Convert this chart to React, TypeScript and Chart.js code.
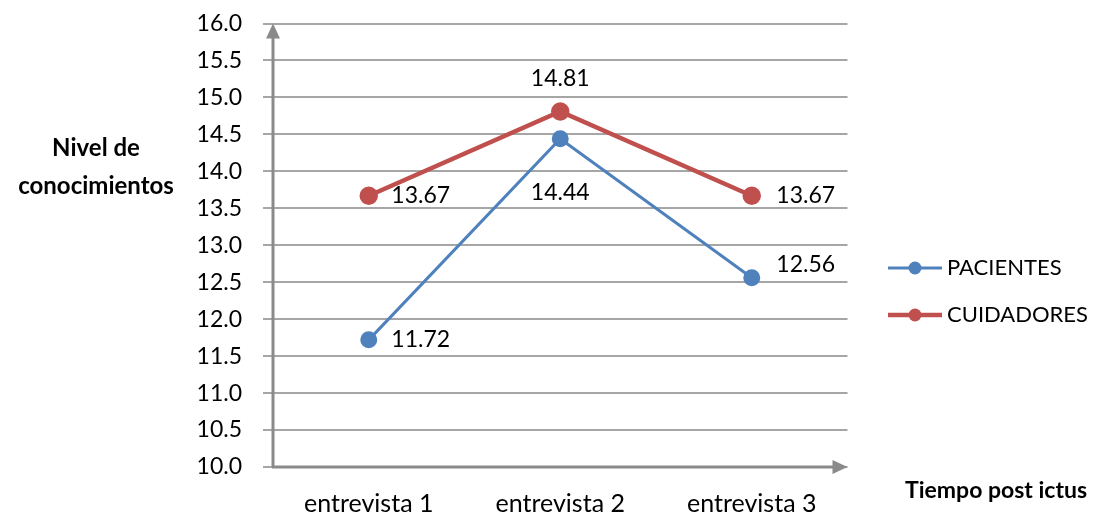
import React, { useEffect, useRef } from "react";
import { Chart, registerables } from "chart.js";

Chart.register(...registerables);

const categories = ["entrevista 1", "entrevista 2", "entrevista 3"];
const pacientes = [11.72, 14.44, 12.56];
const cuidadores = [13.67, 14.81, 13.67];
const seriesNames = ["PACIENTES", "CUIDADORES"];
const yTitleLines = ["Nivel de", "conocimientos"];
const xTitle = "Tiempo post ictus";

const FONT = "Lato, 'Open Sans', sans-serif";
const BLUE = "#4f81bd";
const RED = "#c0504d";
const AXIS = "#8a8a8a";
const GRID = "#a6a6a6";

// label offsets (style only) per dataset/point
const labelOffsets = [
  [[52, 0], [0, 54], [54, -13]],
  [[52, 0], [0, -33], [54, 0]],
];

const decorPlugin = {
  id: "decor",
  afterDatasetsDraw(chart: any) {
    const ctx = chart.ctx;
    const ca = chart.chartArea;
    ctx.save();
    ctx.strokeStyle = AXIS;
    ctx.fillStyle = AXIS;
    ctx.lineWidth = 3;
    ctx.beginPath();
    ctx.moveTo(ca.left, ca.bottom);
    ctx.lineTo(ca.left, ca.top + 12);
    ctx.stroke();
    ctx.beginPath();
    ctx.moveTo(ca.left, ca.top);
    ctx.lineTo(ca.left - 7, ca.top + 15);
    ctx.lineTo(ca.left + 7, ca.top + 15);
    ctx.closePath();
    ctx.fill();
    ctx.beginPath();
    ctx.moveTo(ca.left - 1, ca.bottom);
    ctx.lineTo(ca.right - 12, ca.bottom);
    ctx.stroke();
    ctx.beginPath();
    ctx.moveTo(ca.right, ca.bottom);
    ctx.lineTo(ca.right - 15, ca.bottom - 7);
    ctx.lineTo(ca.right - 15, ca.bottom + 7);
    ctx.closePath();
    ctx.fill();
    ctx.restore();
  },
  afterDraw(chart: any) {
    const ctx = chart.ctx;
    ctx.save();
    ctx.fillStyle = "#000";
    ctx.font = `23px ${FONT}`;
    ctx.textAlign = "center";
    ctx.textBaseline = "middle";
    chart.data.datasets.forEach((ds: any, di: number) => {
      const meta = chart.getDatasetMeta(di);
      meta.data.forEach((pt: any, i: number) => {
        const off = labelOffsets[di][i];
        ctx.fillText(Number(ds.data[i]).toFixed(2), pt.x + off[0], pt.y + off[1]);
      });
    });
    // y title
    ctx.textBaseline = "alphabetic";
    ctx.font = `bold 24px ${FONT}`;
    ctx.fillText(yTitleLines[0], 96, 156);
    ctx.fillText(yTitleLines[1], 96, 194);
    // x title
    ctx.textAlign = "left";
    ctx.font = `bold 23px ${FONT}`;
    ctx.fillText(xTitle, 905, 498);
    // legend
    ctx.textBaseline = "middle";
    ctx.font = `22px ${FONT}`;
    const ys = [268, 315];
    chart.data.datasets.forEach((ds: any, di: number) => {
      const y = ys[di];
      ctx.strokeStyle = ds.borderColor;
      ctx.lineWidth = ds.borderWidth;
      ctx.beginPath();
      ctx.moveTo(888, y);
      ctx.lineTo(942, y);
      ctx.stroke();
      ctx.fillStyle = ds.pointBackgroundColor;
      ctx.beginPath();
      ctx.arc(915, y, 6.5, 0, Math.PI * 2);
      ctx.fill();
      ctx.fillStyle = "#000";
      ctx.fillText(ds.label, 947, y);
    });
    ctx.restore();
  },
};

export default function App() {
  const ref = useRef<HTMLCanvasElement>(null);
  useEffect(() => {
    document.body.style.margin = "0";
    const chart = new Chart(ref.current!, {
      type: "line",
      data: {
        labels: categories,
        datasets: [
          {
            label: seriesNames[0],
            data: pacientes,
            borderColor: BLUE,
            backgroundColor: BLUE,
            pointBackgroundColor: BLUE,
            pointBorderColor: BLUE,
            borderWidth: 3,
            pointRadius: 7,
            tension: 0,
          },
          {
            label: seriesNames[1],
            data: cuidadores,
            borderColor: RED,
            backgroundColor: RED,
            pointBackgroundColor: RED,
            pointBorderColor: RED,
            borderWidth: 4.5,
            pointRadius: 7,
            tension: 0,
          },
        ],
      },
      options: {
        animation: false,
        responsive: false,
        layout: { padding: { left: 0, right: 253.5, top: 23.5, bottom: 0 } },
        plugins: { legend: { display: false }, tooltip: { enabled: false } },
        scales: {
          x: {
            type: "category",
            offset: true,
            grid: { display: false, drawTicks: false },
            border: { display: false },
            ticks: {
              color: "#000",
              font: { family: FONT, size: 25 },
              padding: 22,
            },
            afterFit: (s: any) => {
              s.height = 45;
              s.paddingLeft = 0;
              s.paddingRight = 0;
            },
          },
          y: {
            min: 10,
            max: 16,
            grid: { color: GRID, lineWidth: 2, tickLength: 10, drawTicks: true },
            border: { display: false },
            ticks: {
              stepSize: 0.5,
              color: "#000",
              font: { family: FONT, size: 23 },
              padding: 21,
              callback: (v: any) => Number(v).toFixed(1),
            },
            afterFit: (s: any) => {
              s.width = 273;
              s.paddingTop = 0;
              s.paddingBottom = 0;
            },
          },
        },
      },
      plugins: [decorPlugin],
    });
    return () => chart.destroy();
  }, []);
  return <canvas ref={ref} width={1101} height={512} style={{ display: "block" }} />;
}
